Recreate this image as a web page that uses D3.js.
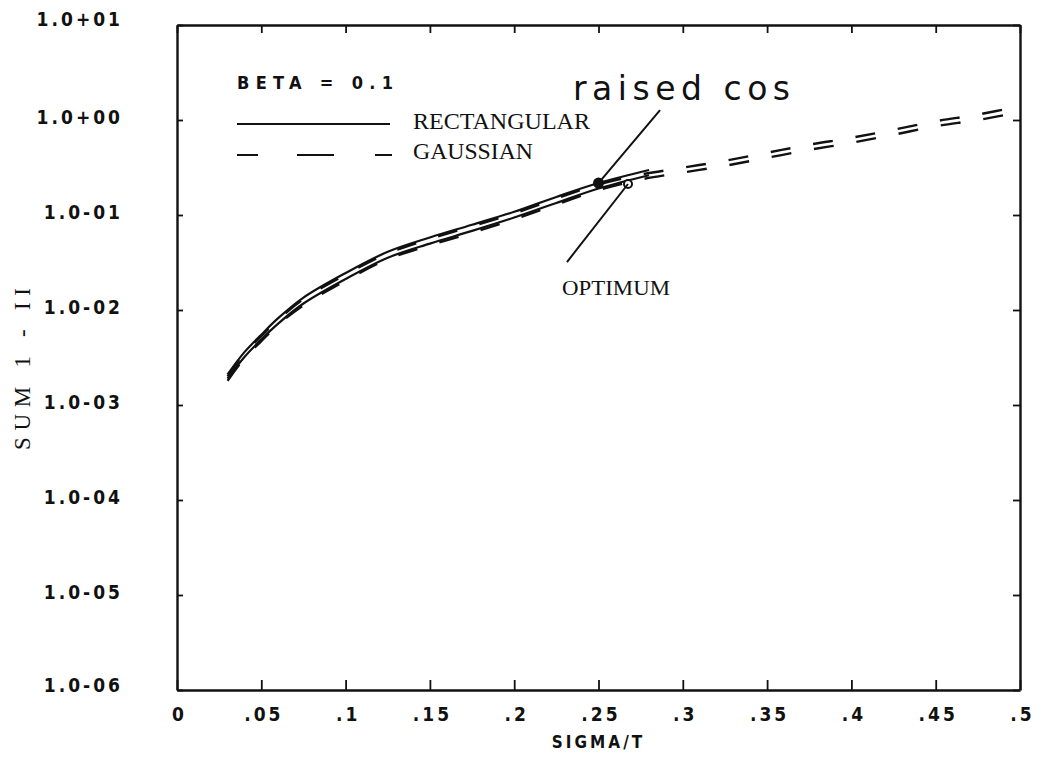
<!DOCTYPE html>
<html>
<head>
<meta charset="utf-8">
<script src="https://cdn.jsdelivr.net/npm/d3@7"></script>
<style>
  html, body { margin: 0; padding: 0; background: #fff; }
  svg { display: block; }
  .serif { font-family: "Liberation Serif", "Times New Roman", serif; font-weight: normal; }
</style>
</head>
<body>
<svg id="chart" width="1041" height="758"></svg>
<script>
// ---------------- data ----------------
const xTicks = [0, 0.05, 0.1, 0.15, 0.2, 0.25, 0.3, 0.35, 0.4, 0.45, 0.5];
const xTickLabels = ["0", ".05", ".1", ".15", ".2", ".25", ".3", ".35", ".4", ".45", ".5"];
const yTicks = [1e-6, 1e-5, 1e-4, 1e-3, 1e-2, 1e-1, 1e0, 1e1];
const yTickLabels = ["1.0-06", "1.0-05", "1.0-04", "1.0-03", "1.0-02", "1.0-01", "1.0+00", "1.0+01"];

// Rectangular (solid) curves, sigma/T from 0.03 to 0.28
const rectX = [0.03, 0.04, 0.05, 0.06, 0.075, 0.10, 0.125, 0.15, 0.175, 0.20, 0.225, 0.25, 0.28];
const rectRaisedCos = [0.0021, 0.0036, 0.0055, 0.0082, 0.0135, 0.0245, 0.041, 0.058, 0.079, 0.108, 0.155, 0.217, 0.298];
const rectOptimum   = [0.0019, 0.0032, 0.0049, 0.0072, 0.0117, 0.0212, 0.0355, 0.050, 0.068, 0.094, 0.134, 0.190, 0.262];

// Gaussian (dashed) curves, sigma/T from 0.03 to 0.5
const gaussX = [0.03, 0.04, 0.05, 0.06, 0.075, 0.10, 0.125, 0.15, 0.175, 0.20, 0.225, 0.25, 0.275, 0.30, 0.325, 0.35, 0.375, 0.40, 0.425, 0.45, 0.475, 0.50];
const gaussRaisedCos = [0.0020, 0.0035, 0.0053, 0.0079, 0.0130, 0.0236, 0.0395, 0.056, 0.076, 0.104, 0.149, 0.210, 0.266, 0.315, 0.372, 0.452, 0.55, 0.65, 0.79, 0.97, 1.14, 1.40];
const gaussOptimum   = [0.0018, 0.0031, 0.0047, 0.0070, 0.0112, 0.0204, 0.0342, 0.048, 0.065, 0.090, 0.129, 0.183, 0.236, 0.280, 0.33, 0.40, 0.485, 0.575, 0.70, 0.86, 1.00, 1.21];

// marked points and annotations (data units)
const raisedCosPoint = [0.25, 0.217];
const optimumPoint = [0.2675, 0.212];
const raisedCosLeaderEnd = [0.2865, 1.27];
const optimumLeaderEnd = [0.2313, 0.032];
const raisedCosLabelPos = [0.2349, 1.62];
const optimumLabelPos = [0.2604, 0.0144];

const legendTitle = "BETA = 0.1";
const legendNames = ["RECTANGULAR", "GAUSSIAN"];

// ---------------- chart ----------------
const svg = d3.select("#chart");
const L = 177, R = 1020, T = 25, B = 690;
const x = d3.scaleLinear().domain([0, 0.5]).range([L, R]);
const y = d3.scaleLog().domain([1e-6, 10]).range([B, T]);

const ink = "#111";
const plotFont = '"DejaVu Sans Condensed", "DejaVu Sans", sans-serif';

// frame axes
const gB = svg.append("g").attr("transform", `translate(0,${B})`)
  .call(d3.axisBottom(x).tickValues(xTicks).tickSizeInner(-10).tickSizeOuter(0)
        .tickPadding(18).tickFormat((d, i) => xTickLabels[i]));
const gT = svg.append("g").attr("transform", `translate(0,${T})`)
  .call(d3.axisTop(x).tickValues(xTicks).tickSizeInner(-8).tickSizeOuter(0).tickFormat(""));
const gL = svg.append("g").attr("transform", `translate(${L},0)`)
  .call(d3.axisLeft(y).tickValues(yTicks).tickSizeInner(-6).tickSizeOuter(0)
        .tickPadding(54).tickFormat((d, i) => yTickLabels[i]));
const gR = svg.append("g").attr("transform", `translate(${R},0)`)
  .call(d3.axisRight(y).tickValues(yTicks).tickSizeInner(-7).tickSizeOuter(0).tickFormat(""));

[gB, gT, gL, gR].forEach(g => {
  g.select(".domain").attr("stroke", ink).attr("stroke-width", 2.4);
  g.selectAll(".tick line").attr("stroke", ink).attr("stroke-width", 1.8);
  g.selectAll(".tick text")
    .attr("fill", ink)
    .attr("font-family", plotFont)
    .attr("font-weight", "bold")
    .attr("font-size", 19)
    .attr("letter-spacing", "3px");
});
gB.selectAll(".tick text").attr("dx", 2);
gL.selectAll(".tick text").attr("dy", "0.2em");
gL.selectAll(".tick").filter(d => d === 10).select("text").attr("dy", "0.05em");
gL.selectAll(".tick").filter(d => d === 1e-6).select("text").attr("dy", "0.1em");

// axis titles
svg.append("text")
  .attr("x", (L + R) / 2).attr("y", 748)
  .attr("text-anchor", "middle")
  .attr("font-family", plotFont)
  .attr("font-weight", "bold").attr("font-size", 17).attr("letter-spacing", "3px")
  .attr("fill", ink)
  .text("SIGMA/T");

svg.append("text")
  .attr("transform", `translate(22,369) rotate(-90)`)
  .attr("text-anchor", "middle").attr("dy", "0.35em")
  .attr("class", "serif").attr("font-size", 23).attr("fill", ink)
  .attr("textLength", 162).attr("lengthAdjust", "spacing")
  .text("SUM 1 - II");

// curves
const line = d3.line().x(d => x(d[0])).y(d => y(d[1])).curve(d3.curveCatmullRom);
const pairs = (xs, ys) => xs.map((v, i) => [v, ys[i]]);

const solidSeries = [rectRaisedCos, rectOptimum];
const dashedSeries = [gaussRaisedCos, gaussOptimum];

svg.append("g").selectAll("path").data(solidSeries).join("path")
  .attr("d", ys => line(pairs(rectX, ys)))
  .attr("fill", "none").attr("stroke", ink).attr("stroke-width", 2.2);

svg.append("g").selectAll("path").data(dashedSeries).join("path")
  .attr("d", ys => line(pairs(gaussX, ys)))
  .attr("fill", "none").attr("stroke", ink).attr("stroke-width", 2.4)
  .attr("stroke-dasharray", "20,23");

// markers
svg.append("circle")
  .attr("cx", x(raisedCosPoint[0])).attr("cy", y(raisedCosPoint[1])).attr("r", 5.5)
  .attr("fill", ink);
svg.append("circle")
  .attr("cx", x(optimumPoint[0])).attr("cy", y(optimumPoint[1])).attr("r", 4)
  .attr("fill", "#fff").attr("stroke", ink).attr("stroke-width", 2);

// annotation leaders
svg.append("line")
  .attr("x1", x(raisedCosLeaderEnd[0])).attr("y1", y(raisedCosLeaderEnd[1]))
  .attr("x2", x(raisedCosPoint[0])).attr("y2", y(raisedCosPoint[1]))
  .attr("stroke", ink).attr("stroke-width", 2);
svg.append("line")
  .attr("x1", x(optimumPoint[0])).attr("y1", y(optimumPoint[1]))
  .attr("x2", x(optimumLeaderEnd[0])).attr("y2", y(optimumLeaderEnd[1]))
  .attr("stroke", ink).attr("stroke-width", 2);

svg.append("text")
  .attr("x", x(raisedCosLabelPos[0])).attr("y", y(raisedCosLabelPos[1]))
  .attr("font-family", '"DejaVu Sans", sans-serif').attr("font-size", 33)
  .attr("fill", ink)
  .attr("textLength", 217).attr("lengthAdjust", "spacing")
  .text("raised cos");

svg.append("text")
  .attr("x", x(optimumLabelPos[0])).attr("y", y(optimumLabelPos[1]))
  .attr("text-anchor", "middle")
  .attr("class", "serif").attr("font-size", 22).attr("fill", ink)
  .attr("textLength", 108).attr("lengthAdjust", "spacingAndGlyphs")
  .text("OPTIMUM");

// legend
const lg = svg.append("g");
lg.append("text")
  .attr("x", 237).attr("y", 89)
  .attr("font-family", plotFont)
  .attr("font-weight", "bold").attr("font-size", 18).attr("fill", ink)
  .attr("textLength", 156).attr("lengthAdjust", "spacing")
  .text(legendTitle);

lg.append("line").attr("x1", 237).attr("x2", 390).attr("y1", 124).attr("y2", 124)
  .attr("stroke", ink).attr("stroke-width", 2);
lg.append("line").attr("x1", 237).attr("x2", 392).attr("y1", 155).attr("y2", 155)
  .attr("stroke", ink).attr("stroke-width", 2)
  .attr("stroke-dasharray", "21,39,37,41,17");

lg.selectAll("text.name").data(legendNames).join("text")
  .attr("class", "name serif")
  .attr("x", 413).attr("y", (d, i) => 129 + i * 30)
  .attr("font-size", 23).attr("fill", ink)
  .attr("textLength", (d, i) => i === 0 ? 177 : 120)
  .attr("lengthAdjust", "spacingAndGlyphs")
  .text(d => d);
</script>
</body>
</html>
